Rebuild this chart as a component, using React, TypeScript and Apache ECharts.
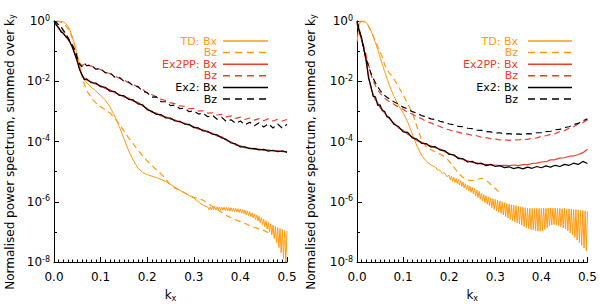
import React, { useEffect, useRef } from 'react';
import * as echarts from 'echarts';

// k_x sample positions shared by the Ex2 / Ex2PP spectra
const K = [0, 0.005, 0.01, 0.015, 0.02, 0.025, 0.03, 0.035, 0.04, 0.045, 0.05, 0.055, 0.06, 0.065, 0.07,
  0.08, 0.09, 0.10, 0.11, 0.12, 0.13, 0.14, 0.15, 0.16, 0.17, 0.18, 0.19, 0.20, 0.21, 0.22, 0.23, 0.24,
  0.25, 0.26, 0.27, 0.28, 0.29, 0.30, 0.31, 0.32, 0.33, 0.34, 0.35, 0.36, 0.37, 0.38, 0.39, 0.40, 0.41,
  0.42, 0.43, 0.44, 0.45, 0.46, 0.47, 0.48, 0.49, 0.50];

// values are log10 of the normalised power spectrum
// ---- left panel ----
const leftEx2Bx = [0, -0.14, -0.22, -0.36, -0.40, -0.52, -0.58, -0.74, -0.88, -1.12, -1.33, -1.62, -1.78, -1.95, -1.92,
  -2.05, -2.06, -2.18, -2.20, -2.33, -2.34, -2.47, -2.48, -2.60, -2.62, -2.75, -2.78, -2.94, -3.00, -3.10, -3.11, -3.22,
  -3.22, -3.32, -3.33, -3.42, -3.43, -3.54, -3.55, -3.65, -3.66, -3.76, -3.78, -3.88, -3.93, -4.05, -4.08, -4.18, -4.18,
  -4.24, -4.23, -4.28, -4.26, -4.32, -4.29, -4.34, -4.31, -4.36];
const leftEx2PPBx = [-0.02, -0.10, -0.26, -0.32, -0.44, -0.48, -0.62, -0.70, -0.92, -1.08, -1.36, -1.58, -1.80, -1.90, -1.96,
  -2.02, -2.10, -2.14, -2.24, -2.28, -2.38, -2.43, -2.52, -2.56, -2.66, -2.70, -2.82, -2.90, -3.03, -3.06, -3.15, -3.18,
  -3.26, -3.29, -3.36, -3.39, -3.47, -3.50, -3.59, -3.61, -3.70, -3.72, -3.82, -3.84, -3.97, -4.01, -4.12, -4.14, -4.21,
  -4.21, -4.26, -4.25, -4.29, -4.28, -4.32, -4.30, -4.34, -4.33];
const leftEx2Bz = [0, -0.04, -0.14, -0.18, -0.32, -0.40, -0.57, -0.68, -0.83, -0.96, -1.24, -1.43, -1.52, -1.40, -1.48,
  -1.47, -1.60, -1.58, -1.72, -1.72, -1.86, -1.87, -2.00, -2.02, -2.16, -2.17, -2.33, -2.38, -2.53, -2.52, -2.68, -2.68,
  -2.81, -2.79, -2.91, -2.89, -3.01, -2.98, -3.09, -3.06, -3.18, -3.13, -3.26, -3.20, -3.34, -3.28, -3.40, -3.32, -3.45,
  -3.36, -3.48, -3.38, -3.52, -3.41, -3.55, -3.42, -3.56, -3.43];
const leftEx2PPBz = [-0.02, -0.06, -0.12, -0.20, -0.30, -0.43, -0.54, -0.72, -0.80, -1.00, -1.20, -1.40, -1.48, -1.43, -1.45,
  -1.50, -1.56, -1.61, -1.69, -1.75, -1.82, -1.90, -1.96, -2.05, -2.10, -2.20, -2.27, -2.38, -2.45, -2.52, -2.60, -2.64,
  -2.72, -2.74, -2.82, -2.83, -2.91, -2.90, -2.99, -2.98, -3.06, -3.05, -3.12, -3.10, -3.18, -3.15, -3.23, -3.19, -3.27,
  -3.22, -3.29, -3.24, -3.31, -3.25, -3.32, -3.26, -3.32, -3.27];
const leftTDBxCore = [[0.005, 0], [0.01, 0.01], [0.015, -0.01], [0.02, -0.03], [0.025, -0.08], [0.03, -0.18], [0.035, -0.33],
  [0.04, -0.55], [0.045, -0.82], [0.05, -1.15], [0.055, -1.5], [0.06, -1.78], [0.065, -1.95], [0.07, -2.05], [0.08, -2.2],
  [0.09, -2.33], [0.10, -2.47], [0.11, -2.62], [0.12, -2.85], [0.13, -3.15], [0.14, -3.5], [0.15, -3.9], [0.16, -4.3],
  [0.17, -4.62], [0.18, -4.88], [0.19, -5.02], [0.20, -5.1], [0.21, -5.15], [0.22, -5.2], [0.23, -5.26], [0.24, -5.33],
  [0.25, -5.42], [0.26, -5.52], [0.27, -5.62], [0.28, -5.7], [0.29, -5.79], [0.30, -5.88], [0.31, -6.0], [0.32, -6.12]];
// oscillating tail: crests every 0.005 from k = 0.33, troughs half-way between
const leftTDBxTailStart = 0.33;
const leftTDBxCrests = [-6.18, -6.17, -6.17, -6.16, -6.17, -6.17, -6.18, -6.18, -6.19, -6.19, -6.20, -6.21, -6.22,
  -6.23, -6.24, -6.26, -6.28, -6.30, -6.33, -6.37, -6.40, -6.44, -6.48, -6.53, -6.58, -6.63, -6.68, -6.73, -6.78,
  -6.82, -6.86, -6.89, -6.92, -6.95, -6.98];
const leftTDBxTroughs = [-6.26, -6.27, -6.26, -6.27, -6.27, -6.28, -6.28, -6.29, -6.30, -6.31, -6.32, -6.33, -6.34,
  -6.36, -6.38, -6.40, -6.43, -6.46, -6.50, -6.54, -6.59, -6.64, -6.70, -6.76, -6.83, -6.91, -7.0, -7.1, -7.22, -7.36,
  -7.52, -7.7, -7.88, -8.0];
const leftTDBz = [[0.005, 0], [0.01, -0.02], [0.015, -0.04], [0.02, -0.08], [0.025, -0.15], [0.03, -0.25], [0.035, -0.4],
  [0.04, -0.6], [0.045, -0.85], [0.05, -1.15], [0.055, -1.5], [0.06, -1.85], [0.065, -2.1], [0.07, -2.3], [0.08, -2.55],
  [0.09, -2.72], [0.10, -2.85], [0.11, -2.95], [0.12, -3.05], [0.13, -3.22], [0.14, -3.42], [0.15, -3.65], [0.16, -3.88],
  [0.17, -4.08], [0.18, -4.28], [0.19, -4.47], [0.20, -4.64], [0.21, -4.8], [0.22, -4.94], [0.23, -5.08], [0.24, -5.25],
  [0.25, -5.45], [0.26, -5.55], [0.27, -5.63], [0.28, -5.7], [0.29, -5.78], [0.30, -5.85], [0.31, -5.9], [0.32, -5.95],
  [0.33, -6.05], [0.34, -6.15], [0.35, -6.25], [0.36, -6.36], [0.37, -6.46], [0.38, -6.53], [0.39, -6.6], [0.40, -6.66],
  [0.41, -6.72], [0.42, -6.79], [0.43, -6.85], [0.44, -6.9], [0.45, -6.95], [0.46, -7.03], [0.465, -7.06]];

// ---- right panel ----
const rightEx2Bx = [-0.02, -0.35, -0.55, -0.95, -1.30, -1.90, -2.15, -2.50, -2.52, -2.80, -2.78, -2.98, -3.00, -3.18, -3.20,
  -3.43, -3.50, -3.68, -3.70, -3.88, -3.92, -4.06, -4.07, -4.18, -4.17, -4.28, -4.30, -4.43, -4.44, -4.57, -4.57, -4.68,
  -4.66, -4.74, -4.72, -4.80, -4.76, -4.83, -4.80, -4.87, -4.84, -4.90, -4.86, -4.91, -4.85, -4.89, -4.83, -4.87, -4.81,
  -4.85, -4.79, -4.83, -4.76, -4.79, -4.72, -4.76, -4.66, -4.73];
const rightEx2PPBx = [-0.05, -0.30, -0.62, -0.90, -1.38, -1.80, -2.22, -2.42, -2.62, -2.72, -2.88, -2.94, -3.06, -3.14, -3.24,
  -3.38, -3.55, -3.63, -3.76, -3.84, -3.97, -4.02, -4.10, -4.14, -4.21, -4.25, -4.34, -4.39, -4.47, -4.53, -4.60, -4.64,
  -4.69, -4.71, -4.75, -4.76, -4.78, -4.78, -4.80, -4.79, -4.80, -4.78, -4.80, -4.77, -4.77, -4.73, -4.72, -4.68, -4.67,
  -4.61, -4.60, -4.55, -4.54, -4.49, -4.48, -4.43, -4.37, -4.26];
const rightEx2Bz = [0, -0.30, -0.60, -0.95, -1.25, -1.50, -1.72, -1.90, -2.05, -2.18, -2.30, -2.40, -2.47, -2.53, -2.58,
  -2.68, -2.76, -2.86, -2.92, -3.01, -3.06, -3.14, -3.18, -3.25, -3.27, -3.33, -3.36, -3.42, -3.44, -3.50, -3.51, -3.56,
  -3.57, -3.62, -3.63, -3.67, -3.68, -3.72, -3.71, -3.75, -3.74, -3.76, -3.75, -3.77, -3.74, -3.75, -3.71, -3.71, -3.67,
  -3.66, -3.61, -3.60, -3.54, -3.51, -3.44, -3.40, -3.31, -3.25];
const rightEx2PPBz = [-0.10, -0.35, -0.65, -0.85, -1.15, -1.45, -1.75, -1.98, -2.15, -2.28, -2.40, -2.48, -2.56, -2.62, -2.67,
  -2.76, -2.86, -2.93, -3.03, -3.09, -3.19, -3.24, -3.33, -3.38, -3.46, -3.50, -3.58, -3.61, -3.67, -3.69, -3.74, -3.75,
  -3.80, -3.81, -3.86, -3.87, -3.91, -3.91, -3.95, -3.94, -3.96, -3.94, -3.95, -3.92, -3.93, -3.89, -3.88, -3.83, -3.81,
  -3.76, -3.74, -3.67, -3.64, -3.56, -3.51, -3.42, -3.37, -3.28];
const rightTDBxCore = [[0, -0.7], [0.005, -0.1], [0.01, 0], [0.015, -0.01], [0.02, -0.05], [0.025, -0.15], [0.03, -0.3],
  [0.035, -0.5], [0.04, -0.72], [0.045, -0.95], [0.05, -1.2], [0.055, -1.45], [0.06, -1.68], [0.065, -1.9], [0.07, -2.12],
  [0.08, -2.5], [0.09, -2.8], [0.10, -3.05], [0.11, -3.35], [0.12, -3.75], [0.13, -4.15], [0.14, -4.45], [0.15, -4.65],
  [0.16, -4.78], [0.17, -4.85], [0.175, -4.95], [0.18, -4.95], [0.185, -5.06], [0.19, -5.04], [0.195, -5.17]];
const rightTDBxTailStart = 0.20;
const rightTDBxCrests = [-5.12, -5.15, -5.19, -5.23, -5.26, -5.30, -5.35, -5.40, -5.44, -5.48, -5.52, -5.56, -5.61,
  -5.66, -5.71, -5.76, -5.80, -5.84, -5.87, -5.90, -5.92, -5.94, -5.97, -6.00, -6.03, -6.06, -6.08, -6.10, -6.11,
  -6.13, -6.15, -6.17, -6.18, -6.20, -6.21, -6.22, -6.22, -6.23, -6.22, -6.22, -6.22, -6.21, -6.22, -6.21, -6.21,
  -6.22, -6.21, -6.22, -6.22, -6.23, -6.22, -6.24, -6.24, -6.25, -6.26, -6.26, -6.27, -6.28, -6.29, -6.30, -6.32];
const rightTDBxTroughs = [-5.28, -5.32, -5.36, -5.40, -5.44, -5.49, -5.54, -5.59, -5.64, -5.69, -5.74, -5.80, -5.86,
  -5.92, -5.98, -6.03, -6.08, -6.14, -6.20, -6.25, -6.30, -6.34, -6.39, -6.44, -6.49, -6.54, -6.59, -6.63, -6.66,
  -6.70, -6.74, -6.78, -6.82, -6.86, -6.89, -6.92, -6.94, -6.96, -6.98, -6.98, -6.96, -6.92, -6.86, -6.80, -6.77,
  -6.76, -6.77, -6.79, -6.83, -6.87, -6.90, -6.96, -7.03, -7.10, -7.18, -7.27, -7.36, -7.45, -7.54, -7.63];
const rightTDBz = [[0.005, -0.02], [0.01, 0], [0.015, -0.02], [0.02, -0.08], [0.025, -0.18], [0.03, -0.33], [0.035, -0.5],
  [0.04, -0.68], [0.045, -0.85], [0.05, -1.02], [0.055, -1.2], [0.06, -1.45], [0.065, -1.6], [0.07, -1.72], [0.08, -1.92],
  [0.09, -2.18], [0.10, -2.45], [0.11, -2.75], [0.12, -3.05], [0.13, -3.5], [0.14, -3.95], [0.15, -4.17], [0.16, -4.27],
  [0.17, -4.35], [0.18, -4.42], [0.19, -4.5], [0.20, -4.65], [0.21, -4.85], [0.22, -5.05], [0.23, -5.2], [0.24, -5.28],
  [0.25, -5.3], [0.26, -5.26], [0.27, -5.22], [0.28, -5.28], [0.29, -5.42], [0.30, -5.56], [0.31, -5.7]];

const TAIL_STEP = 0.005; // spacing of the crests in the oscillating tails

const xTickLabels = ['0.0', '0.1', '0.2', '0.3', '0.4', '0.5'];
const yExponents = ['0', '-2', '-4', '-6', '-8'];

const ORANGE = '#ff9a12';
const RED = '#f23b27';
const BLACK = '#000000';
const FONT = 'DejaVu Sans';

const legendRows = [
  { label: 'TD: Bx', color: ORANGE, dashed: false },
  { label: 'Bz', color: ORANGE, dashed: true },
  { label: 'Ex2PP: Bx', color: RED, dashed: false },
  { label: 'Bz', color: RED, dashed: true },
  { label: 'Ex2: Bx', color: BLACK, dashed: false },
  { label: 'Bz', color: BLACK, dashed: true },
];

const zip = (vals: number[]) => K.map((k, i) => [k, vals[i]]);

function withTail(core: number[][], start: number, crests: number[], troughs: number[]) {
  const out = core.slice();
  crests.forEach((c, i) => {
    const k = start + i * TAIL_STEP;
    out.push([k, c]);
    if (i < troughs.length) out.push([k + TAIL_STEP / 2, troughs[i]]);
  });
  return out;
}

function lineSeries(name: string, data: number[][], color: string, dashed: boolean, idx: number, z: number, width = 1.2) {
  return {
    type: 'line',
    name,
    data,
    xAxisIndex: idx,
    yAxisIndex: idx,
    showSymbol: false,
    symbol: 'none',
    z,
    lineStyle: { color, width, type: dashed ? [6, 4] : 'solid' },
  };
}

function xAxis(gridIndex: number) {
  return {
    type: 'value', gridIndex, min: 0, max: 0.5, interval: 0.1,
    axisLine: { show: true, onZero: false, lineStyle: { color: '#000', width: 1 } },
    axisTick: { show: true, inside: true, length: 5, lineStyle: { color: '#000' } },
    minorTick: { show: true, splitNumber: 10, length: 2.5, lineStyle: { color: '#000' } },
    splitLine: { show: false }, minorSplitLine: { show: false },
    axisLabel: {
      fontFamily: FONT, fontSize: 12, color: '#000', margin: 9,
      formatter: (v: number) => xTickLabels[Math.round(v * 10)] ?? '',
    },
    name: '{k|k}{s|x}', nameLocation: 'middle', nameGap: 26,
    nameTextStyle: {
      rich: {
        k: { fontFamily: FONT, fontSize: 12, color: '#000', lineHeight: 14 },
        s: { fontFamily: FONT, fontSize: 8, color: '#000', lineHeight: 8, verticalAlign: 'bottom' },
      },
    },
  };
}

function yAxis(gridIndex: number) {
  return {
    type: 'value', gridIndex, min: -8, max: 0, interval: 2,
    axisLine: { show: true, onZero: false, lineStyle: { color: '#000', width: 1 } },
    axisTick: { show: true, inside: true, length: 5, lineStyle: { color: '#000' } },
    minorTick: { show: true, splitNumber: 2, length: 3, lineStyle: { color: '#000' } },
    splitLine: { show: false }, minorSplitLine: { show: false },
    axisLabel: {
      margin: 4,
      formatter: (v: number) => '{b|10}{s|' + yExponents[Math.round(-v / 2)] + '}',
      rich: {
        b: { fontFamily: FONT, fontSize: 12, color: '#000', lineHeight: 14 },
        s: { fontFamily: FONT, fontSize: 8, color: '#000', lineHeight: 8, verticalAlign: 'top' },
      },
    },
  };
}

function legendGraphics(textRight: number, lineX1: number, lineX2: number) {
  const rowsY = [41, 52.6, 64.2, 75.8, 87.4, 99];
  const els: any[] = [];
  legendRows.forEach((r, i) => {
    els.push({
      type: 'text', x: textRight, y: rowsY[i], silent: true,
      style: {
        text: r.label, fill: r.color, font: `11px "${FONT}"`, lineHeight: 10,
        align: 'right', verticalAlign: 'middle',
      },
    });
    els.push({
      type: 'line', silent: true,
      shape: { x1: lineX1, y1: rowsY[i], x2: lineX2, y2: rowsY[i] },
      style: { stroke: r.color, lineWidth: 1.5, lineDash: r.dashed ? [7, 5] : null },
    });
  });
  return els;
}

function yName(x: number) {
  return {
    type: 'text', x, y: 152, rotation: Math.PI / 2, silent: true,
    style: {
      text: 'Normalised power spectrum, summed over k{s|y}',
      font: `12px "${FONT}"`, fill: '#000', align: 'center', verticalAlign: 'middle',
      rich: { s: { fontFamily: FONT, fontSize: 8, fill: '#000', verticalAlign: 'bottom', lineHeight: 8 } },
    },
  };
}

export default function App() {
  const ref = useRef<HTMLDivElement>(null);
  useEffect(() => {
    if (!ref.current) return;
    const chart = echarts.init(ref.current, null, { renderer: 'svg' });
    const leftTDBx = withTail(leftTDBxCore, leftTDBxTailStart, leftTDBxCrests, leftTDBxTroughs);
    const rightTDBx = withTail(rightTDBxCore, rightTDBxTailStart, rightTDBxCrests, rightTDBxTroughs);
    chart.setOption({
      animation: false,
      backgroundColor: '#ffffff',
      grid: [
        { left: 54, right: 313, top: 21, bottom: 39 },
        { left: 357, right: 11, top: 21, bottom: 39 },
      ],
      xAxis: [xAxis(0), xAxis(1)],
      yAxis: [yAxis(0), yAxis(1)],
      series: [
        lineSeries('TD Bz', leftTDBz, ORANGE, true, 0, 2),
        lineSeries('TD Bx', leftTDBx, ORANGE, false, 0, 2, 1),
        lineSeries('Ex2PP Bz', zip(leftEx2PPBz), RED, true, 0, 3),
        lineSeries('Ex2PP Bx', zip(leftEx2PPBx), RED, false, 0, 3),
        lineSeries('Ex2 Bz', zip(leftEx2Bz), BLACK, true, 0, 4),
        lineSeries('Ex2 Bx', zip(leftEx2Bx), BLACK, false, 0, 4),
        lineSeries('TD Bz', rightTDBz, ORANGE, true, 1, 2),
        lineSeries('TD Bx', rightTDBx, ORANGE, false, 1, 2, 1),
        lineSeries('Ex2PP Bz', zip(rightEx2PPBz), RED, true, 1, 3),
        lineSeries('Ex2PP Bx', zip(rightEx2PPBx), RED, false, 1, 3),
        lineSeries('Ex2 Bz', zip(rightEx2Bz), BLACK, true, 1, 4),
        lineSeries('Ex2 Bx', zip(rightEx2Bx), BLACK, false, 1, 4),
      ],
      graphic: [
        ...legendGraphics(217, 223, 268),
        ...legendGraphics(518, 528, 572),
        yName(10),
        yName(311),
      ],
    });
    return () => chart.dispose();
  }, []);
  return <div ref={ref} style={{ position: 'absolute', left: 0, top: 0, width: 600, height: 307 }} />;
}
